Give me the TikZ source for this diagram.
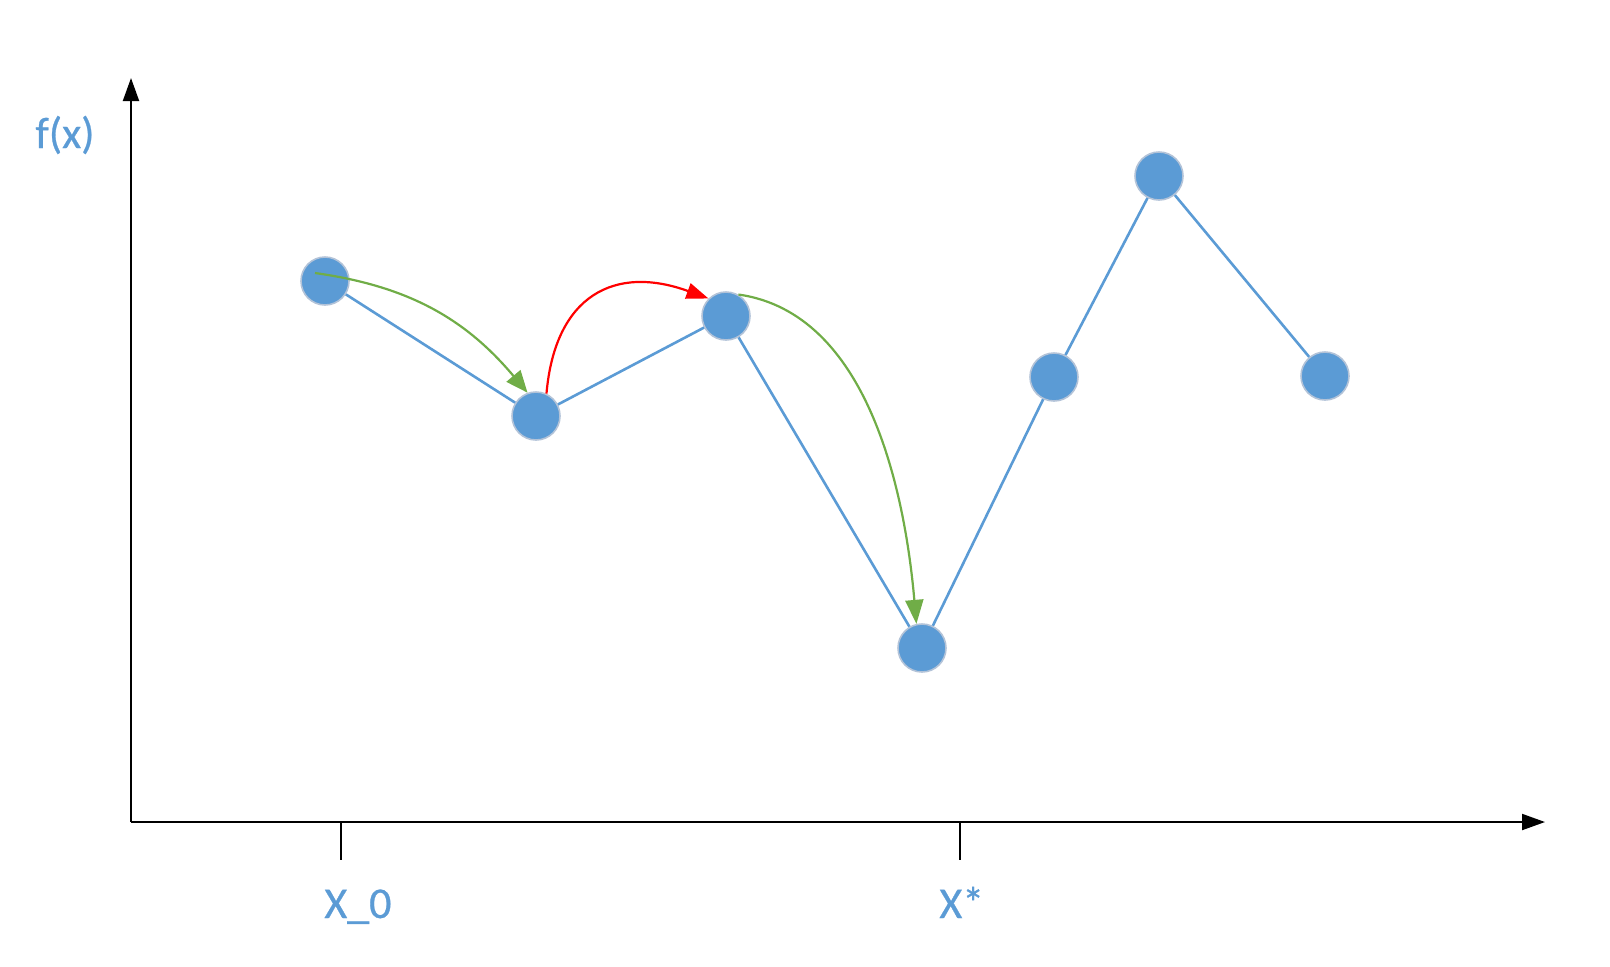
\documentclass[tikz,border=0pt]{standalone}
\usepackage{fontspec}
\setmainfont{Carlito}
\newfontfamily\lblfont[FakeBold=0.6]{Carlito}
\usetikzlibrary{arrows.meta}
\definecolor{ptblue}{HTML}{5B9BD5}
\definecolor{ptrim}{HTML}{B3C3D8}
\definecolor{stepgreen}{HTML}{70AD47}
\definecolor{stepred}{HTML}{FF0000}

\begin{document}
\begin{tikzpicture}[x=0.5pt,y=-0.5pt,
    pt/.style={circle,fill=ptblue,draw=ptrim,line width=0.8pt,minimum size=24pt,inner sep=0pt},
    curve/.style={ptblue,line width=1.3pt},
    axis/.style={line width=1pt,-{Triangle[length=11.5pt,width=8pt]}},
    tick/.style={line width=1.2pt},
    move/.style={line width=1.1pt,-{Triangle[length=11pt,width=9pt]}},
    lbl/.style={text=ptblue,anchor=base west,inner sep=0pt,font=\lblfont\fontsize{22pt}{26pt}\selectfont}]
    \useasboundingbox (0,0) rectangle (1610,966);
    % axes
    \coordinate (O) at (131,822);
    \coordinate (ytop) at (131,78);
    \coordinate (xend) at (1545,822);
    \draw[axis] (O) -- (ytop);
    \draw[axis] (O) -- (xend);
    \node[lbl] (fx) at (35,148) {f(x)};
    % ticks
    \coordinate (t0) at (341,822);
    \coordinate (t0b) at (341,860);
    \coordinate (ts) at (960,822);
    \coordinate (tsb) at (960,860);
    \draw[tick] (t0) -- (t0b);
    \draw[tick] (ts) -- (tsb);
    \node[lbl] (x0) at (324,918) {X\_0};
    \node[lbl] (xs) at (939,918) {X*};
    % points
    \node[pt] (A) at (325,281) {};
    \node[pt] (B) at (536,416) {};
    \node[pt] (C) at (726,316) {};
    \node[pt] (D) at (922,648) {};
    \node[pt] (E) at (1054,377) {};
    \node[pt] (F) at (1159,176) {};
    \node[pt] (G) at (1325,376) {};
    \draw[curve] (A) -- (B) -- (C) -- (D) -- (E) -- (F) -- (G);
    % moves
    \draw[move,stepgreen] ([xshift=-5pt,yshift=4pt]A.center) to[out=-8,in=130] (B.110);
    \draw[move,stepred,-{Triangle[length=11pt,width=8pt]}] (B.65) to[out=85,in=160,looseness=1.35] (C.135);
    \draw[move,stepgreen,-{Triangle[length=12pt,width=9pt]}] (C.60) to[out=-8,in=95,looseness=0.9] (D.103);
\end{tikzpicture}
\end{document}
